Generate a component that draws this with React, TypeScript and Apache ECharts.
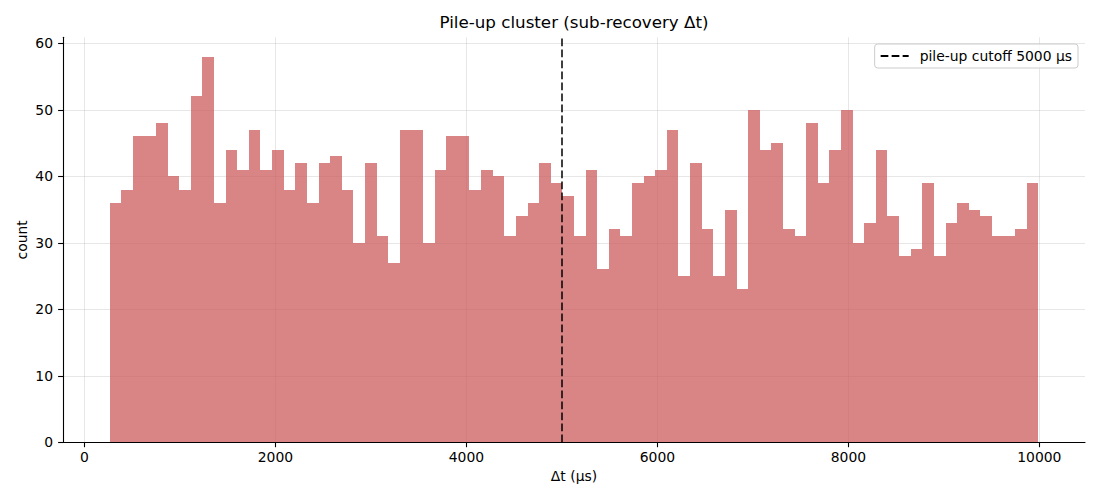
import React, { useEffect, useRef } from "react";
import * as echarts from "echarts";

const TITLE = "Pile-up cluster (sub-recovery Δt)";
const X_NAME = "Δt (μs)";
const Y_NAME = "count";
const LEGEND_NAME = "pile-up cutoff 5000 μs";
const CUTOFF = 5000;

const BIN_START = 262;
const BIN_WIDTH = 121.6;
const COUNTS = [
  36, 38, 46, 46, 48, 40, 38, 52, 58, 36,
  44, 41, 47, 41, 44, 38, 42, 36, 42, 43,
  38, 30, 42, 31, 27, 47, 47, 30, 41, 46,
  46, 38, 41, 40, 31, 34, 36, 42, 39, 37,
  31, 41, 26, 32, 31, 39, 40, 41, 47, 25,
  42, 32, 25, 35, 23, 50, 44, 45, 32, 31,
  48, 39, 44, 50, 30, 33, 44, 34, 28, 29,
  39, 28, 33, 36, 35, 34, 31, 31, 32, 39,
];

const X_TICKS = [0, 2000, 4000, 6000, 8000, 10000];
const Y_TICKS = [0, 10, 20, 30, 40, 50, 60];
const X_MIN = -225;
const X_MAX = 10478;
const Y_MAX = 60.9;

const FONT = "DejaVu Sans";
const BAR_COLOR = "rgba(205,92,92,0.75)";
const GRID_COLOR = "rgba(176,176,176,0.3)";

export default function App() {
  const ref = useRef<HTMLDivElement>(null);

  useEffect(() => {
    if (!ref.current) return;
    const chart = echarts.init(ref.current, null, { renderer: "svg" });

    const histData = COUNTS.map((c, i) => [
      BIN_START + i * BIN_WIDTH,
      BIN_START + (i + 1) * BIN_WIDTH,
      c,
    ]);

    const axisLine = { show: true, onZero: false, lineStyle: { color: "#000", width: 1.1 } };
    const axisTick = { show: true, length: 4.9, lineStyle: { color: "#000", width: 1.1 } };
    const labelStyle = { fontFamily: FONT, fontSize: 13.9, color: "#000" };

    chart.setOption({
      animation: false,
      backgroundColor: "#fff",
      title: {
        text: TITLE,
        left: 574,
        top: 13,
        textAlign: "center",
        padding: 0,
        textStyle: { fontFamily: FONT, fontSize: 16.7, fontWeight: "normal", color: "#000" },
      },
      legend: {
        right: 22,
        top: 44,
        padding: [5, 6, 5, 5],
        itemWidth: 28,
        itemHeight: 14,
        borderColor: "#cccccc",
        borderWidth: 1,
        borderRadius: 3,
        backgroundColor: "rgba(255,255,255,0.8)",
        itemStyle: { opacity: 0 },
        textStyle: { fontFamily: FONT, fontSize: 13.9, color: "#000", padding: [0, 0, 0, 6] },
        data: [LEGEND_NAME],
      },
      grid: { left: 63, right: 15, top: 37.3, bottom: 57.7, containLabel: false },
      xAxis: {
        type: "value",
        min: X_MIN,
        max: X_MAX,
        name: X_NAME,
        nameLocation: "middle",
        nameGap: 27,
        nameMoveOverlap: false,
        nameTextStyle: { fontFamily: FONT, fontSize: 13.9, color: "#000" },
        axisLine,
        axisTick: { ...axisTick, customValues: X_TICKS },
        axisLabel: { ...labelStyle, margin: 8, customValues: X_TICKS, formatter: (v: number) => String(v) },
        splitLine: { show: true, lineStyle: { color: GRID_COLOR, width: 1 } },
      },
      yAxis: {
        type: "value",
        min: 0,
        max: Y_MAX,
        name: Y_NAME,
        nameLocation: "middle",
        nameGap: 34,
        nameMoveOverlap: false,
        nameTextStyle: { fontFamily: FONT, fontSize: 13.9, color: "#000" },
        axisLine,
        axisTick: { ...axisTick, customValues: Y_TICKS },
        axisLabel: { ...labelStyle, margin: 10, customValues: Y_TICKS, formatter: (v: number) => String(v) },
        splitLine: { show: true, lineStyle: { color: GRID_COLOR, width: 1 } },
      },
      series: [
        {
          type: "custom",
          name: "hist",
          silent: true,
          data: histData,
          encode: { x: [0, 1], y: 2 },
          renderItem: (params: any, api: any) => {
            const x0 = api.value(0);
            const x1 = api.value(1);
            const y = api.value(2);
            const p0 = api.coord([x0, 0]);
            const p1 = api.coord([x1, y]);
            const left = Math.round(p0[0]);
            const right = Math.round(p1[0]);
            const top = Math.round(p1[1]);
            const bottom = Math.round(p0[1]);
            return {
              type: "rect",
              shape: { x: left, y: top, width: right - left, height: bottom - top },
              style: { fill: BAR_COLOR, stroke: null },
            };
          },
        },
        {
          type: "line",
          name: LEGEND_NAME,
          data: [],
          symbol: "none",
          itemStyle: { color: "#000" },
          lineStyle: { color: "#000", width: 1.5, type: [7.7, 3.3] },
          markLine: {
            silent: true,
            symbol: "none",
            label: { show: false },
            lineStyle: { color: "#000", width: 1.5, type: [7.7, 3.3] },
            data: [{ xAxis: CUTOFF }],
          },
        },
      ],
    });

    return () => chart.dispose();
  }, []);

  return (
    <div
      ref={ref}
      style={{ position: "absolute", left: 0, top: 0, width: 1100, height: 500 }}
    />
  );
}
